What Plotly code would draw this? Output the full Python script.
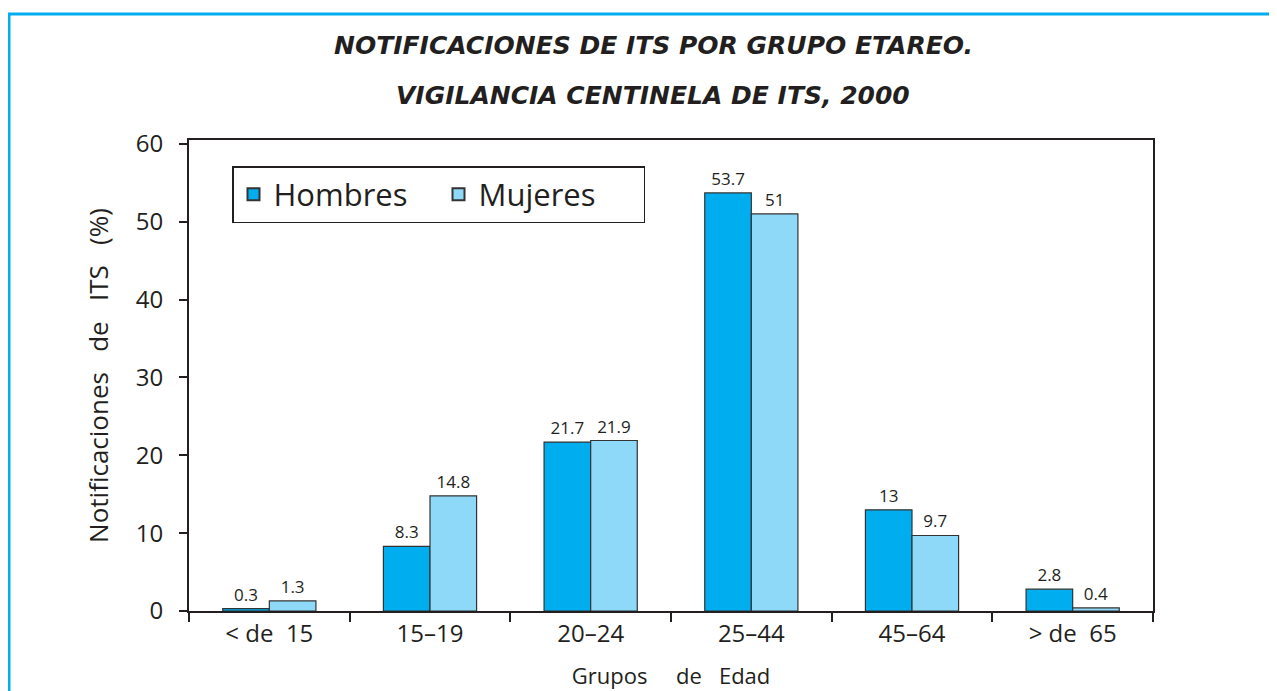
import plotly.graph_objects as go

categories = ["< de  15", "15\u201319", "20\u201324", "25\u201344", "45\u201364", "> de  65"]
hombres = [0.3, 8.3, 21.7, 53.7, 13, 2.8]
mujeres = [1.3, 14.8, 21.9, 51, 9.7, 0.4]
hombres_labels = ["0.3", "8.3", "21.7", "53.7", "13", "2.8"]
mujeres_labels = ["1.3", "14.8", "21.9", "51", "9.7", "0.4"]

FONT = "Open Sans"
DARK = "#231f20"

fig = go.Figure()
fig.add_trace(go.Bar(
    name="Hombres", x=categories, y=hombres, text=hombres_labels,
    textposition="outside", cliponaxis=False,
    textfont=dict(size=17, color=DARK, family=FONT),
    marker=dict(color="#00aeef", line=dict(color="#333333", width=1.2)),
))
fig.add_trace(go.Bar(
    name="Mujeres", x=categories, y=mujeres, text=mujeres_labels,
    textposition="outside", cliponaxis=False,
    textfont=dict(size=17, color=DARK, family=FONT),
    marker=dict(color="#8ed8f8", line=dict(color="#333333", width=1.2)),
))

# page offset of the figure inside the browser (body margin)
OFF = 8
W, H = 1277, 691
L, R, T, B = 189 - OFF, 1277 - (1153 - OFF), 140 - OFF, 691 - (611 - OFF)
ph = H - T - B
pw = W - L - R

def px(x):
    return (x - OFF - L) / pw

def py(y):
    return (H - B - (y - OFF)) / ph

fig.update_layout(
    width=W, height=H,
    margin=dict(l=L, r=R, t=T, b=B),
    paper_bgcolor="white", plot_bgcolor="white",
    barmode="group", bargap=0.42, bargroupgap=0,
    font=dict(family=FONT, color=DARK),
    showlegend=True,
    legend=dict(
        orientation="h", x=px(232), y=py(166), xanchor="left", yanchor="top",
        font=dict(size=31, family=FONT, color=DARK),
        bordercolor="#231f20", borderwidth=1.5, bgcolor="white",
        entrywidth=160, itemsizing="constant",
    ),
    xaxis=dict(
        automargin=False,
        showline=True, linecolor=DARK, linewidth=2, mirror=True,
        ticks="outside", tickson="boundaries", ticklen=9, tickwidth=2, tickcolor=DARK,
        tickfont=dict(size=24, family=FONT, color=DARK),
        showgrid=False,
        title=dict(text="Grupos\u00a0\u00a0\u00a0\u00a0\u00a0de\u00a0\u00a0\u00a0Edad",
                   font=dict(size=22, family=FONT, color=DARK), standoff=21),
    ),
    yaxis=dict(
        automargin=False,
        range=[0, 60.5], tickvals=[0, 10, 20, 30, 40, 50, 60],
        showline=True, linecolor=DARK, linewidth=2, mirror=True,
        ticks="outside", ticklen=8, tickwidth=2, tickcolor=DARK,
        tickfont=dict(size=24, family=FONT, color=DARK),
        showgrid=False, zeroline=False, ticklabelstandoff=11,
        title=dict(text="Notificaciones\u00a0\u00a0\u00a0de\u00a0\u00a0\u00a0ITS\u00a0\u00a0\u00a0(%)",
                   font=dict(size=26, family=FONT, color=DARK), standoff=20),
    ),
    annotations=[
        dict(text="NOTIFICACIONES DE ITS POR GRUPO ETAREO.", x=px(653), y=py(45),
             xref="paper", yref="paper", showarrow=False, xanchor="center", yanchor="middle",
             font=dict(size=25, family="DejaVu Sans", color=DARK, weight="bold", style="italic")),
        dict(text="VIGILANCIA CENTINELA DE ITS, 2000", x=px(653), y=py(95),
             xref="paper", yref="paper", showarrow=False, xanchor="center", yanchor="middle",
             font=dict(size=25, family="DejaVu Sans", color=DARK, weight="bold", style="italic")),
    ],
    shapes=[
        dict(type="rect", xref="paper", yref="paper",
             x0=px(9), y0=py(720), x1=px(1320), y1=py(14),
             line=dict(color="#00aeef", width=3), fillcolor="rgba(0,0,0,0)", layer="below"),
    ],
)

fig.write_html("out.html")
